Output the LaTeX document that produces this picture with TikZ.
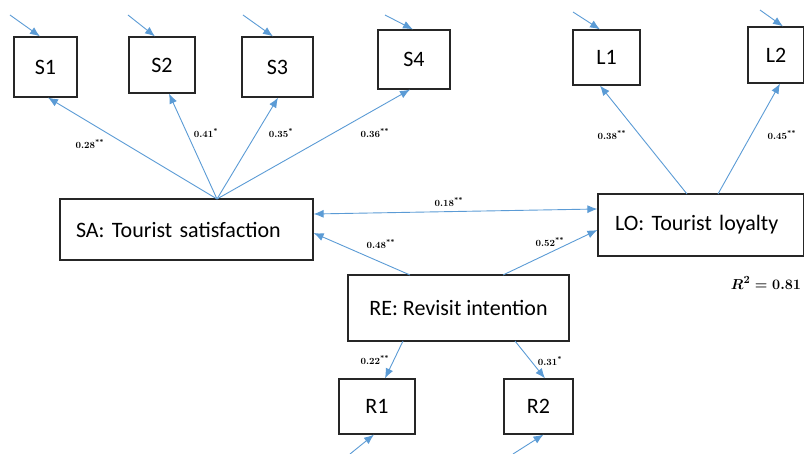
\documentclass[tikz,border=0pt]{standalone}
\usepackage{fontspec}
\usepackage{amsmath}
\setsansfont{Carlito}
\usetikzlibrary{arrows.meta, positioning}

\definecolor{pathblue}{RGB}{91,155,213}

\tikzset{
    item/.style={draw=black!85, line width=1.2pt, inner sep=0pt,
        font=\sffamily\fontsize{22}{26}\selectfont},
    latent/.style={item, align=left, inner xsep=16pt},
    link/.style={draw=pathblue, line width=0.9pt, -{Latex[length=10pt,width=8pt]}},
    twolink/.style={draw=pathblue, line width=0.9pt, {Latex[length=10pt,width=8pt]}-{Latex[length=10pt,width=8pt]}},
    coef/.style={font=\fontsize{9.5}{10}\selectfont\bfseries, inner sep=1pt}
}

\begin{document}
\begin{tikzpicture}[x=1pt, y=-1pt]
    \useasboundingbox (0,0) rectangle (804,454);

    % indicators
    \node (S1) [item, minimum width=63pt, minimum height=60pt] at (45.5,67) {S1};
    \node (S2) [item, minimum width=66pt, minimum height=56pt] at (162,65) {S2};
    \node (S3) [item, minimum width=71pt, minimum height=60pt] at (277.5,67) {S3};
    \node (S4) [item, minimum width=72pt, minimum height=59pt] at (414,59.5) {S4};
    \node (L1) [item, minimum width=67pt, minimum height=55pt] at (606.5,57.5) {L1};
    \node (L2) [item, minimum width=56pt, minimum height=56pt] at (776,55) {L2};
    \node (R1) [item, minimum width=76pt, minimum height=55pt] at (377,406.5) {R1};
    \node (R2) [item, minimum width=69pt, minimum height=55pt] at (538.5,406.5) {R2};

    % constructs
    \node (SA) [latent, text width=221pt, minimum height=61pt] at (186.5,229.5) {SA: Tourist satisfaction};
    \node (LO) [latent, text width=172pt, inner xsep=17pt, minimum height=62pt] at (701,225) {LO: Tourist loyalty};
    \node (RE) [item, minimum width=221pt, minimum height=66pt] at (458.5,308) {RE: Revisit intention};

    % error terms
    \coordinate (eS1) at (10,15);
    \coordinate (eS2) at (128,15);
    \coordinate (eS3) at (243,15);
    \coordinate (eS4) at (385,15);
    \coordinate (eL1) at (573,12);
    \coordinate (eL2) at (760,10);
    \coordinate (eR1) at (350,454);
    \coordinate (eR2) at (513,454);

    \path (eS1) edge[link] ([xshift=-5.5pt]S1.north);
    \path (eS2) edge[link] ([xshift=-7pt]S2.north);
    \path (eS3) edge[link] ([xshift=-4.5pt]S3.north);
    \path (eS4) edge[link] ([xshift=-1pt]S4.north);
    \path (eL1) edge[link] ([xshift=-6.5pt]L1.north);
    \path (eL2) edge[link] ([xshift=7pt]L2.north);
    \path (eR1) edge[link] ([xshift=-3pt]R1.south);
    \path (eR2) edge[link] ([xshift=5pt]R2.south);

    % loadings
    \coordinate (SAtop) at (217,199);
    \coordinate (LOtop1) at (687,194);
    \coordinate (LOtop2) at (718,194);
    \coordinate (REbot1) at (403,341);
    \coordinate (REbot2) at (515,341);

    \path (SAtop) edge[link] ([xshift=2.5pt]S1.south);
    \path (SAtop) edge[link] ([xshift=7pt]S2.south);
    \path (SAtop) edge[link] ([xshift=0.5pt]S3.south);
    \path (SAtop) edge[link] ([xshift=-4pt]S4.south);
    \path (LOtop1) edge[link] ([xshift=-6.5pt]L1.south);
    \path (LOtop2) edge[link] ([xshift=4pt]L2.south);
    \path (REbot1) edge[link] ([xshift=8pt]R1.north);
    \path (REbot2) edge[link] ([xshift=6.5pt]R2.north);

    % structural paths
    \coordinate (REtop1) at (410,275);
    \coordinate (REtop2) at (503,275);

    \path ([yshift=15.5pt]SA.east) edge[twolink] ([yshift=16pt]LO.west);
    \path (REtop1) edge[link] ([yshift=-3.5pt]SA.east);
    \path (REtop2) edge[link] ([yshift=-5pt]LO.west);

    % coefficients
    \node (c28) [coef] at (90,144) {0.28\textsuperscript{**}};
    \node (c41) [coef] at (206,133) {0.41\textsuperscript{*}};
    \node (c35) [coef] at (281,133) {0.35\textsuperscript{*}};
    \node (c36) [coef] at (375,133) {0.36\textsuperscript{**}};
    \node (c38) [coef] at (612,135) {0.38\textsuperscript{**}};
    \node (c45) [coef] at (782,135) {0.45\textsuperscript{**}};
    \node (c18) [coef] at (449,202) {0.18\textsuperscript{**}};
    \node (c48) [coef] at (381,244) {0.48\textsuperscript{**}};
    \node (c52) [coef] at (550,242) {0.52\textsuperscript{**}};
    \node (c22) [coef] at (375,360) {0.22\textsuperscript{**}};
    \node (c31) [coef] at (550,361) {0.31\textsuperscript{*}};

    \node (rsq) [font=\fontsize{15}{18}\selectfont, inner sep=1pt] at (766,283) {$\boldsymbol{R^2 = 0.81}$};
\end{tikzpicture}
\end{document}
